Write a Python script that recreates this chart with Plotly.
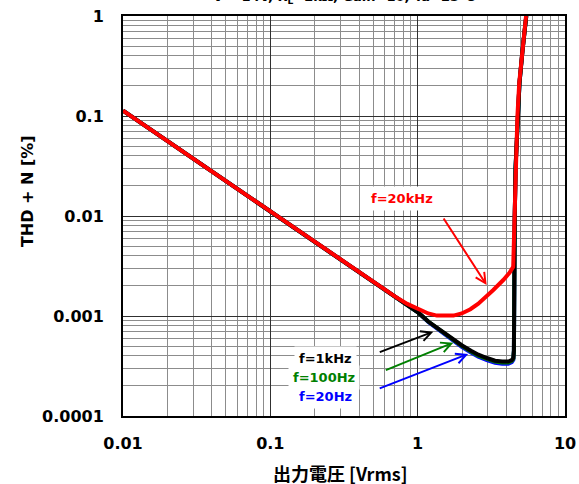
import math
import plotly.graph_objects as go

# THD+N versus output voltage, four test frequencies
x_1k = [0.01, 0.02, 0.05, 0.1, 0.2, 0.5, 0.8, 1.01, 1.18, 1.53, 1.99, 2.3, 2.58, 2.95,
        3.35, 3.75, 4.12, 4.35, 4.46, 4.5, 4.52, 4.56, 4.62, 4.77, 4.91, 5.15, 5.46]
y_1k = [0.113, 0.0562, 0.0224, 0.0111, 0.0056, 0.00222, 0.00137, 0.00108, 0.00088, 0.00067,
        0.00051, 0.00045, 0.00041, 0.00038, 0.000357, 0.00035, 0.00035, 0.000362, 0.00038,
        0.00045, 0.003, 0.0099, 0.031, 0.098, 0.214, 0.457, 1.0]

x_100 = [0.01, 0.02, 0.05, 0.1, 0.2, 0.5, 0.8, 1.01, 1.18, 1.53, 1.99, 2.3, 2.58, 2.95,
         3.35, 3.75, 4.12, 4.35, 4.46, 4.5, 4.52, 4.56, 4.62, 4.77, 4.91, 5.15, 5.46]
y_100 = [0.113, 0.0562, 0.0224, 0.0111, 0.0056, 0.00222, 0.00137, 0.00108, 0.00088, 0.00066,
         0.000502, 0.000442, 0.000402, 0.000372, 0.00035, 0.000343, 0.000343, 0.000355, 0.000373,
         0.00045, 0.003, 0.0099, 0.031, 0.098, 0.214, 0.457, 1.0]

x_20 = [0.01, 0.02, 0.05, 0.1, 0.2, 0.5, 0.8, 1.01, 1.18, 1.53, 1.99, 2.3, 2.58, 2.95,
        3.35, 3.75, 4.12, 4.35, 4.46, 4.5, 4.52, 4.56, 4.62, 4.77, 4.91, 5.15, 5.46]
y_20 = [0.113, 0.0562, 0.0224, 0.0111, 0.0056, 0.00222, 0.00137, 0.00108, 0.00087, 0.00065,
        0.000492, 0.000432, 0.000392, 0.000362, 0.00034, 0.000333, 0.000333, 0.000345, 0.000365,
        0.00045, 0.003, 0.0099, 0.031, 0.098, 0.214, 0.457, 1.0]

x_20k = [0.01, 0.02, 0.05, 0.1, 0.2, 0.5, 0.7, 0.85, 1.01, 1.18, 1.35, 1.53, 1.75, 1.99,
         2.28, 2.58, 2.9, 3.26, 3.81, 4.2, 4.45, 4.53, 4.6, 4.75, 4.89, 5.13, 5.44]
y_20k = [0.113, 0.0562, 0.0224, 0.0111, 0.0056, 0.00222, 0.00157, 0.00132, 0.00117, 0.00106,
         0.00101, 0.001, 0.00101, 0.00106, 0.00117, 0.00133, 0.00155, 0.00182, 0.00229, 0.0027,
         0.0031, 0.0098, 0.031, 0.098, 0.214, 0.457, 1.0]

x_ticks = [0.01, 0.1, 1, 10]
x_ticktext = ["0.01", "0.1", "1", "10"]
y_ticks = [0.0001, 0.001, 0.01, 0.1, 1]
y_ticktext = ["0.0001", "0.001", "0.01", "0.1", "1"]

FONT = "DejaVu Sans"

fig = go.Figure()
series = [
    (x_20, y_20, "#0000FF", "f=20Hz"),
    (x_100, y_100, "#008000", "f=100Hz"),
    (x_1k, y_1k, "#000000", "f=1kHz"),
    (x_20k, y_20k, "#FF0000", "f=20kHz"),
]
for xs, ys, col, name in series:
    fig.add_trace(go.Scatter(x=xs, y=ys, mode="lines", name=name,
                             line=dict(color=col, width=4), showlegend=False))

axis_common = dict(
    type="log", automargin=False,
    showline=True, linewidth=2, linecolor="#000000", mirror=True,
    showgrid=True, gridcolor="#303030", gridwidth=1.3,
    ticks="", zeroline=False,
    tickfont=dict(family=FONT, size=16, color="#000000", weight="bold"),
    minor=dict(dtick="D1", showgrid=True, gridcolor="#8c8c8c", gridwidth=0.8, ticks=""),
)

fig.update_xaxes(range=[-2, 1], tickvals=x_ticks, ticktext=x_ticktext,
                 ticklabelstandoff=12, **axis_common)
fig.update_yaxes(range=[-4, 0], tickvals=y_ticks, ticktext=y_ticktext,
                 ticklabelstandoff=14, **axis_common)

annotations = []

# chart heading, partly above the page edge
annotations.append(dict(
    text="V<sup>+</sup>=14V, R<sub>L</sub>=2kΩ, Gain=10, Ta=25°C",
    xref="paper", yref="paper", x=0.5, y=1.048, xanchor="center", yanchor="middle",
    showarrow=False, font=dict(family=FONT, size=13, color="#000000", weight="bold")))

# axis titles
annotations.append(dict(
    text="THD + N [%]", xref="paper", yref="paper", x=-0.217, y=0.5625,
    textangle=-90, showarrow=False, xanchor="center", yanchor="middle",
    font=dict(family=FONT, size=16, color="#000000", weight="bold")))
annotations.append(dict(
    text="出力電圧 [Vrms]", xref="paper", yref="paper", x=0.491, y=-0.1425,
    showarrow=False, xanchor="center", yanchor="middle",
    font=dict(family="Noto Sans CJK JP, DejaVu Sans", size=18, color="#000000", weight="bold")))

# curve labels
labels = [
    ("f=20kHz", 0.778, 0.0148, "#FF0000"),
    ("f=1kHz", 0.235, 0.000376, "#000000"),
    ("f=100Hz", 0.231, 0.000243, "#008000"),
    ("f=20Hz", 0.235, 0.000158, "#0000FF"),
]
for txt, lx, ly, col in labels:
    annotations.append(dict(
        text=txt, x=math.log10(lx), y=math.log10(ly), xref="x", yref="y",
        showarrow=False, bgcolor="#FFFFFF", borderpad=4,
        font=dict(family=FONT, size=13, color=col, weight="bold")))

# pointer arrows: tip in data units, tail offset in pixels
arrows = [
    (2.94, 0.00204, -44, -68, "#FF0000"),
    (1.276, 0.000697, -55, 21, "#000000"),
    (1.746, 0.000541, -69, 28, "#008000"),
    (2.203, 0.000417, -90, 35, "#0000FF"),
]
for tx, ty, ax, ay, col in arrows:
    annotations.append(dict(
        text="", x=math.log10(tx), y=math.log10(ty), xref="x", yref="y",
        ax=ax, ay=ay, axref="pixel", ayref="pixel",
        showarrow=True, arrowhead=5, arrowsize=1.0, arrowwidth=2,
        arrowcolor=col, standoff=0))

fig.update_layout(
    width=579, height=484,
    margin=dict(l=123, r=14, t=16, b=68),
    paper_bgcolor="#FFFFFF", plot_bgcolor="#FFFFFF",
    annotations=annotations,
)

fig.write_html("out.html")
